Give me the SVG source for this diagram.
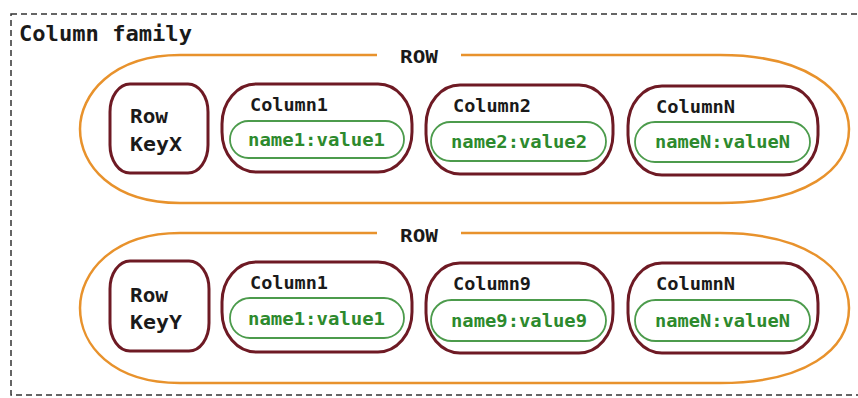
<svg xmlns="http://www.w3.org/2000/svg" width="858" height="398" viewBox="0 0 858 398">
<style>
text{font-family:"DejaVu Sans Mono","Liberation Mono",monospace;font-weight:bold;fill:#1a1a1a}
.frame{fill:none;stroke:#333;stroke-width:1.5;stroke-dasharray:6 4}
.row{fill:none;stroke:#e8922c;stroke-width:2.5}
.box{fill:#fff;stroke:#6e1a24;stroke-width:3}
.pill{fill:#fff;stroke:#4c9b4c;stroke-width:1.8}
.lbl{font-size:17px}
.key{font-size:19px}
.val{font-size:17px;fill:#2d8a2d}
</style>
<rect width="858" height="398" fill="#fff"/>
<g id="column-family">
<rect class="frame" x="11" y="14" width="870" height="381"/>
<text x="19" y="41" font-size="21" textLength="173" lengthAdjust="spacingAndGlyphs">Column family</text>
</g>
<g id="row1">
<path class="row" d="M377,55 H180 C112,55 80,95 80,129 C80,165 112,203 180,203 H720 C805,203 849,170 849,129 C849,90 805,55 720,55 H461"/>
<text class="lbl" x="400" y="63" textLength="38" lengthAdjust="spacingAndGlyphs">ROW</text>
</g>
<g id="rowkeyX">
<rect class="box" x="110" y="84" width="98" height="89" rx="20" ry="28"/>
<text class="key" x="130" y="123" textLength="38" lengthAdjust="spacingAndGlyphs">Row</text>
<text class="key" x="130" y="151" textLength="52" lengthAdjust="spacingAndGlyphs">KeyX</text>
</g>
<g id="row1-col1">
<rect class="box" x="222" y="84" width="190" height="88" rx="34" ry="40"/>
<text class="lbl" x="250" y="111" textLength="78" lengthAdjust="spacingAndGlyphs">Column1</text>
<rect class="pill" x="230" y="121" width="174" height="37" rx="18.5"/>
<text class="val" x="248" y="146" textLength="137" lengthAdjust="spacingAndGlyphs">name1:value1</text>
</g>
<g id="row1-col2">
<rect class="box" x="426" y="85" width="187" height="89" rx="34" ry="40"/>
<text class="lbl" x="453" y="112" textLength="78" lengthAdjust="spacingAndGlyphs">Column2</text>
<rect class="pill" x="431" y="122" width="175" height="39" rx="19.5"/>
<text class="val" x="451" y="148" textLength="136" lengthAdjust="spacingAndGlyphs">name2:value2</text>
</g>
<g id="row1-colN">
<rect class="box" x="628" y="86" width="190" height="89" rx="34" ry="40"/>
<text class="lbl" x="656" y="113" textLength="79" lengthAdjust="spacingAndGlyphs">ColumnN</text>
<rect class="pill" x="635" y="122" width="175" height="40" rx="20"/>
<text class="val" x="655" y="148" textLength="135" lengthAdjust="spacingAndGlyphs">nameN:valueN</text>
</g>
<g id="row2">
<path class="row" d="M377,233 H180 C112,233 80,273 80,308 C80,345 112,383 180,383 H720 C805,383 849,350 849,308 C849,268 805,233 720,233 H461"/>
<text class="lbl" x="400" y="242" textLength="38" lengthAdjust="spacingAndGlyphs">ROW</text>
</g>
<g id="rowkeyY">
<rect class="box" x="110" y="261" width="99" height="90" rx="20" ry="28"/>
<text class="key" x="130" y="302" textLength="38" lengthAdjust="spacingAndGlyphs">Row</text>
<text class="key" x="130" y="329" textLength="52" lengthAdjust="spacingAndGlyphs">KeyY</text>
</g>
<g id="row2-col1">
<rect class="box" x="222" y="262" width="190" height="90" rx="34" ry="40"/>
<text class="lbl" x="250" y="289" textLength="78" lengthAdjust="spacingAndGlyphs">Column1</text>
<rect class="pill" x="230" y="298" width="174" height="40" rx="20"/>
<text class="val" x="248" y="325" textLength="137" lengthAdjust="spacingAndGlyphs">name1:value1</text>
</g>
<g id="row2-col9">
<rect class="box" x="426" y="263" width="187" height="90" rx="34" ry="40"/>
<text class="lbl" x="453" y="290" textLength="78" lengthAdjust="spacingAndGlyphs">Column9</text>
<rect class="pill" x="431" y="300" width="175" height="41" rx="20.5"/>
<text class="val" x="451" y="327" textLength="136" lengthAdjust="spacingAndGlyphs">name9:value9</text>
</g>
<g id="row2-colN">
<rect class="box" x="628" y="263" width="190" height="90" rx="34" ry="40"/>
<text class="lbl" x="656" y="290" textLength="79" lengthAdjust="spacingAndGlyphs">ColumnN</text>
<rect class="pill" x="635" y="300" width="175" height="41" rx="20.5"/>
<text class="val" x="655" y="327" textLength="135" lengthAdjust="spacingAndGlyphs">nameN:valueN</text>
</g>
<g id="connectors"></g>
</svg>
